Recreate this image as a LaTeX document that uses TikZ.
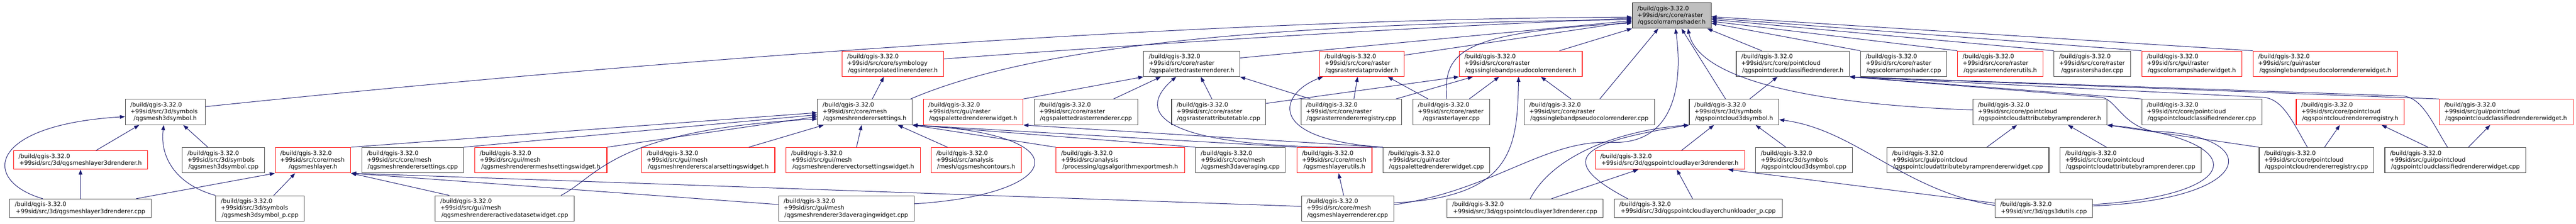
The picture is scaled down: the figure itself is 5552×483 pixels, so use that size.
\documentclass[tikz,border=0pt]{standalone}
\usepackage{fontspec}
\setmainfont{DejaVu Sans}
\usetikzlibrary{arrows.meta,calc}
\definecolor{grey25}{HTML}{404040}
\definecolor{grey75}{HTML}{BFBFBF}
\definecolor{midnight}{HTML}{191970}
\newcommand{\lline}[1]{\makebox[\linewidth][l]{#1}}
\newcommand{\qbuild}{\lline{/build/qgis-3.32.0}}

\begin{document}
\begin{tikzpicture}[x=1pt, y=-1pt,
    srcbox/.style={draw=grey25, line width=1.2pt, fill=white, inner xsep=11pt, inner ysep=0pt,
      minimum width=#1, text width=#1-22pt, minimum height=55pt, align=center,
      font=\fontsize{12.7}{14.7}\selectfont},
    redbox/.style={srcbox=#1, draw=red},
    short/.style={minimum height=40pt},
    incl/.style={draw=midnight, line width=1.1pt, -{Triangle[length=11pt, width=8pt]}}]
  \path[use as bounding box, fill=white] (0,0) rectangle (5552,483);

  % the header itself
  \node[srcbox=170pt, draw=black, fill=grey75] (cramp) at (3603,33.5) {\qbuild\\\lline{+99sid/src/core/raster}\\/qgscolorrampshader.h};

  % first row
  \node[redbox=219pt] (interp) at (1924.5,137.5) {\qbuild\\\lline{+99sid/src/core/symbology}\\/qgsinterpolatedlinerenderer.h};
  \node[srcbox=207pt] (palr) at (2568.5,137.5) {\qbuild\\\lline{+99sid/src/core/raster}\\/qgspalettedrasterrenderer.h};
  \node[redbox=182pt] (rdp) at (2935,137.5) {\qbuild\\\lline{+99sid/src/core/raster}\\/qgsrasterdataprovider.h};
  \node[redbox=265pt] (sbpr) at (3277.5,137.5) {\qbuild\\\lline{+99sid/src/core/raster}\\/qgssinglebandpseudocolorrenderer.h};
  \node[srcbox=244pt] (pcclass) at (3864,137.5) {\qbuild\\\lline{+99sid/src/core/pointcloud}\\/qgspointcloudclassifiedrenderer.h};
  \node[srcbox=186pt] (crampcpp) at (4103,137.5) {\qbuild\\\lline{+99sid/src/core/raster}\\/qgscolorrampshader.cpp};
  \node[redbox=184pt] (rrutils) at (4311,137.5) {\qbuild\\\lline{+99sid/src/core/raster}\\/qgsrasterrendererutils.h};
  \node[srcbox=165pt] (rshader) at (4509.5,137.5) {\qbuild\\\lline{+99sid/src/core/raster}\\/qgsrastershader.cpp};
  \node[redbox=216pt] (crampw) at (4724,137.5) {\qbuild\\\lline{+99sid/src/gui/raster}\\/qgscolorrampshaderwidget.h};
  \node[redbox=311pt] (sbprw) at (5011.5,137.5) {\qbuild\\\lline{+99sid/src/gui/raster}\\/qgssinglebandpseudocolorrendererwidget.h};

  % second row
  \node[srcbox=172pt] (m3dsym) at (356,241.5) {\qbuild\\\lline{+99sid/src/3d/symbols}\\/qgsmesh3dsymbol.h};
  \node[srcbox=204pt] (mrset) at (1864,241.5) {\qbuild\\\lline{+99sid/src/core/mesh}\\/qgsmeshrenderersettings.h};
  \node[redbox=215pt] (palw) at (2097.5,241.5) {\qbuild\\\lline{+99sid/src/gui/raster}\\/qgspalettedrendererwidget.h};
  \node[srcbox=223pt] (palrcpp) at (2340.5,241.5) {\qbuild\\\lline{+99sid/src/core/raster}\\/qgspalettedrasterrenderer.cpp};
  \node[srcbox=203pt] (ratcpp) at (2626.5,241.5) {\qbuild\\\lline{+99sid/src/core/raster}\\/qgsrasterattributetable.cpp};
  \node[srcbox=217pt] (rregcpp) at (2912.5,241.5) {\qbuild\\\lline{+99sid/src/core/raster}\\/qgsrasterrendererregistry.cpp};
  \node[srcbox=166pt] (rlayercpp) at (3128,241.5) {\qbuild\\\lline{+99sid/src/core/raster}\\/qgsrasterlayer.cpp};
  \node[srcbox=281pt] (sbprcpp) at (3425.5,241.5) {\qbuild\\\lline{+99sid/src/core/raster}\\/qgssinglebandpseudocolorrenderer.cpp};
  \node[srcbox=193pt] (pc3dsym) at (3737.5,241.5) {\qbuild\\\lline{+99sid/src/3d/symbols}\\/qgspointcloud3dsymbol.h};
  \node[srcbox=289pt] (pcramp) at (4396.5,241.5) {\qbuild\\\lline{+99sid/src/core/pointcloud}\\/qgspointcloudattributebyramprenderer.h};
  \node[srcbox=259pt] (pcclasscpp) at (4745.5,241.5) {\qbuild\\\lline{+99sid/src/core/pointcloud}\\/qgspointcloudclassifiedrenderer.cpp};
  \node[redbox=233pt] (pcreg) at (5065.5,241.5) {\qbuild\\\lline{+99sid/src/core/pointcloud}\\/qgspointcloudrendererregistry.h};
  \node[redbox=289pt] (pcclassw) at (5401.5,241.5) {\qbuild\\\lline{+99sid/src/gui/pointcloud}\\/qgspointcloudclassifiedrendererwidget.h};

  % third row
  \node[redbox=289pt, short] (ml3dr) at (173.5,345) {\qbuild\\+99sid/src/3d/qgsmeshlayer3drenderer.h};
  \node[srcbox=177pt] (m3dsymcpp) at (481.5,345.5) {\qbuild\\\lline{+99sid/src/3d/symbols}\\/qgsmesh3dsymbol.cpp};
  \node[redbox=163pt] (mlayer) at (674.5,345.5) {\qbuild\\\lline{+99sid/src/core/mesh}\\/qgsmeshlayer.h};
  \node[srcbox=219pt] (mrsetcpp) at (889.5,345.5) {\qbuild\\\lline{+99sid/src/core/mesh}\\/qgsmeshrenderersettings.cpp};
  \node[redbox=285pt] (mmeshw) at (1165.5,345.5) {\qbuild\\\lline{+99sid/src/gui/mesh}\\/qgsmeshrenderermeshsettingswidget.h};
  \node[redbox=287pt] (mscalarw) at (1526.5,345.5) {\qbuild\\\lline{+99sid/src/gui/mesh}\\/qgsmeshrendererscalarsettingswidget.h};
  \node[redbox=290pt] (mvectorw) at (1839,345.5) {\qbuild\\\lline{+99sid/src/gui/mesh}\\/qgsmeshrenderervectorsettingswidget.h};
  \node[redbox=194pt] (mcont) at (2104,345.5) {\qbuild\\\lline{+99sid/src/analysis}\\/mesh/qgsmeshcontours.h};
  \node[redbox=277pt] (expmesh) at (2414.5,345.5) {\qbuild\\\lline{+99sid/src/analysis}\\/processing/qgsalgorithmexportmesh.h};
  \node[srcbox=193pt] (m3davgcpp) at (2673.5,345.5) {\qbuild\\\lline{+99sid/src/core/mesh}\\/qgsmesh3daveraging.cpp};
  \node[redbox=162pt] (mlutils) at (2876,345.5) {\qbuild\\\lline{+99sid/src/core/mesh}\\/qgsmeshlayerutils.h};
  \node[srcbox=230pt] (palwcpp) at (3096,345.5) {\qbuild\\\lline{+99sid/src/gui/raster}\\/qgspalettedrendererwidget.cpp};
  \node[redbox=322pt, short] (pcl3dr) at (3599,345) {\qbuild\\+99sid/src/3d/qgspointcloudlayer3drenderer.h};
  \node[srcbox=208pt] (pc3dsymcpp) at (3888,345.5) {\qbuild\\\lline{+99sid/src/3d/symbols}\\/qgspointcloud3dsymbol.cpp};
  \node[srcbox=349pt] (pcrampwcpp) at (4241.5,345.5) {\qbuild\\\lline{+99sid/src/gui/pointcloud}\\/qgspointcloudattributebyramprendererwidget.cpp};
  \node[srcbox=304pt] (pcrampcpp) at (4592,345.5) {\qbuild\\\lline{+99sid/src/core/pointcloud}\\/qgspointcloudattributebyramprenderer.cpp};
  \node[srcbox=247pt] (pcregcpp) at (4992.5,345.5) {\qbuild\\\lline{+99sid/src/core/pointcloud}\\/qgspointcloudrendererregistry.cpp};
  \node[srcbox=304pt] (pcclasswcpp) at (5292,345.5) {\qbuild\\\lline{+99sid/src/gui/pointcloud}\\/qgspointcloudclassifiedrendererwidget.cpp};

  % fourth row
  \node[srcbox=305pt, short] (ml3drcpp) at (173.5,449) {\qbuild\\+99sid/src/3d/qgsmeshlayer3drenderer.cpp};
  \node[srcbox=191pt] (m3dsympcpp) at (560.5,449.5) {\qbuild\\\lline{+99sid/src/3d/symbols}\\/qgsmesh3dsymbol\_p.cpp};
  \node[srcbox=300pt] (mactivecpp) at (1088,449.5) {\qbuild\\\lline{+99sid/src/gui/mesh}\\/qgsmeshrendereractivedatasetwidget.cpp};
  \node[srcbox=292pt] (m3davgwcpp) at (1824,449.5) {\qbuild\\\lline{+99sid/src/gui/mesh}\\/qgsmeshrenderer3daveragingwidget.cpp};
  \node[srcbox=199pt] (mlrcpp) at (2904.5,449.5) {\qbuild\\\lline{+99sid/src/core/mesh}\\/qgsmeshlayerrenderer.cpp};
  \node[srcbox=336pt, short] (pcl3drcpp) at (3287,449) {\qbuild\\+99sid/src/3d/qgspointcloudlayer3drenderer.cpp};
  \node[srcbox=362pt, short] (pcchunkcpp) at (3660,449) {\qbuild\\+99sid/src/3d/qgspointcloudlayerchunkloader\_p.cpp};
  \node[srcbox=210pt, short] (utilscpp) at (4405,449) {\qbuild\\+99sid/src/3d/qgs3dutils.cpp};

  % into the header, from the left
  \draw[incl] ($(m3dsym.east)+(0,-11.5)$) .. controls (1400,130) and (2600,40) .. ($(cramp.west)+(0,3.5)$);
  \draw[incl] ($(interp.east)+(0,-10.5)$) .. controls (2400,100) and (3000,60) .. ($(cramp.west)+(0,6)$);
  \draw[incl] ($(mrset.north east)+(-4,0)$) .. controls (2250,90) and (2800,50) .. ($(cramp.west)+(0,9)$);
  \draw[incl] ($(palr.east)+(0,-12.5)$) -- ($(cramp.west)+(0,11)$);
  \draw[incl] ($(rdp.east)+(0,-18.5)$) -- ($(cramp.west)+(0,13)$);
  \draw[incl] ($(rlayercpp.north)+(-10,0)$) .. controls (3110,110) and (3150,70) .. ($(cramp.west)+(0,16)$);

  % into the header, from below
  \draw[incl] ($(sbpr.north)+(83.5,0)$) -- (cramp.south west);
  \draw[incl] ($(sbprcpp.north)+(22.5,0)$) -- ($(cramp.south)+(-29,0)$);
  \draw[incl] ($(mlrcpp.east)+(0,-8)$) .. controls (3220,410) and (3330,300) .. (3474,307) .. controls (3620,312) and (3625,160) .. ($(cramp.south)+(8,0)$);
  \draw[incl] ($(pc3dsym.north)+(-18.5,0)$) -- ($(cramp.south)+(21,0)$);
  \draw[incl] ($(pcramp.west)+(0,-4.5)$) .. controls (3900,225) and (3660,170) .. ($(cramp.south)+(35,0)$);
  \draw[incl] ($(pcclass.north)+(-67,0)$) -- ($(cramp.south east)+(-9,0)$);

  % into the header, from the right
  \foreach \n/\dy in {sbprw/2.5, crampw/5.5, rshader/8.5, rrutils/12.5, crampcpp/16.5}
    \draw[incl] (\n.north west) -- ($(cramp.east)+(0,\dy)$);

  % mesh renderer settings
  \draw[incl] ($(mrset.north)+(16,0)$) -- ($(interp.south)+(-19.5,0)$);
  \draw[incl] (mlayer.north east) -- ($(mrset.west)+(0,1.5)$);
  \draw[incl] (mrsetcpp.north east) -- ($(mrset.west)+(0,6)$);
  \draw[incl] (mmeshw.north east) -- ($(mrset.west)+(0,10)$);
  \draw[incl] ($(mactivecpp.north)+(121,0)$) .. controls (1290,380) and (1320,280) .. ($(mrset.west)+(0,15)$);
  \draw[incl] ($(mscalarw.north)+(87.5,0)$) -- ($(mrset.south west)+(14,0)$);
  \draw[incl] ($(mvectorw.north)+(7,0)$) -- ($(mrset.south)+(-7,0)$);
  \draw[incl] ($(mcont.north)+(-62,0)$) -- ($(mrset.south)+(71,0)$);
  \foreach \n in {expmesh, m3davgcpp, mlutils}
    \draw[incl] (\n.north west) -- (mrset.south east);
  \draw[incl] ($(m3davgwcpp.east)+(0,-10)$) .. controls (2290,420) and (2340,290) .. (mrset.south east);

  % paletted raster renderer
  \draw[incl] (palw.north east) -- (palr.south west);
  \draw[incl] ($(palrcpp.north)+(59.5,0)$) -- ($(palr.south)+(-66.5,0)$);
  \draw[incl] ($(ratcpp.north)+(-14.5,0)$) -- ($(palr.south)+(19.5,0)$);
  \draw[incl] ($(rregcpp.north west)+(21,0)$) -- (palr.south east);
  \draw[incl] (palwcpp.north west) .. controls (2450,325) and (2460,230) .. ($(palr.south)+(-33.5,0)$);
  \draw[incl] (palwcpp.north west) -- (palw.south east);

  % raster data provider
  \draw[incl] ($(rregcpp.north)+(5.5,0)$) -- ($(rdp.south)+(-9,0)$);
  \draw[incl] ($(rlayercpp.north)+(-50,0)$) -- ($(rdp.south)+(56,0)$);
  \draw[incl] (palwcpp.north west) .. controls (2720,300) and (2760,200) .. ($(rdp.south west)+(8,0)$);

  % singleband pseudocolor renderer
  \draw[incl] ($(ratcpp.east)+(0,-18.5)$) -- (sbpr.south west);
  \draw[incl] ($(rregcpp.north east)+(-13,0)$) -- ($(sbpr.south west)+(30,0)$);
  \draw[incl] ($(rlayercpp.north east)+(-45,0)$) -- ($(sbpr.south)+(-46.5,0)$);
  \draw[incl] ($(sbprcpp.north)+(-39.5,0)$) -- ($(sbpr.south)+(43.5,0)$);
  \draw[incl] ($(mlrcpp.east)+(0,-12)$) .. controls (3260,425) and (3270,320) .. ($(sbpr.south)+(-4.5,0)$);

  % mesh 3d symbol and mesh layer
  \draw[incl] ($(ml3dr.north)+(33.5,0)$) -- ($(m3dsym.south)+(-56,0)$);
  \draw[incl] ($(ml3drcpp.north)+(-81.5,0)$) .. controls (-40,390) and (-30,270) .. ($(m3dsym.west)+(0,10)$);
  \draw[incl] ($(m3dsymcpp.north)+(-33.5,0)$) -- ($(m3dsym.south)+(39,0)$);
  \draw[incl] (m3dsympcpp.north west) .. controls (370,395) and (345,330) .. ($(m3dsym.south)+(-3,0)$);
  \draw[incl] (ml3drcpp) -- (ml3dr);
  \draw[incl] ($(ml3drcpp.north east)+(-33,0)$) -- (mlayer.south west);
  \draw[incl] ($(m3dsympcpp.north)+(29.5,0)$) -- ($(mlayer.south)+(-38.5,0)$);
  \draw[incl] ($(mactivecpp.north west)+(31,0)$) -- (mlayer.south east);
  \draw[incl] ($(m3davgwcpp.west)+(0,-8.5)$) -- (mlayer.south east);
  \draw[incl] ($(mlrcpp.west)+(0,-4.5)$) -- (mlayer.south east);
  \draw[incl] ($(mlrcpp.north)+(-8.5,0)$) -- ($(mlutils.south)+(9,0)$);

  % point cloud 3d symbol and layer renderer
  \draw[incl] ($(pcl3dr.north)+(25,0)$) -- ($(pc3dsym.south)+(-43.5,0)$);
  \draw[incl] ($(pcl3drcpp.north)+(11,0)$) .. controls (3350,330) and (3500,280) .. (pc3dsym.south west);
  \draw[incl] ($(pcchunkcpp.north)+(-152,0)$) .. controls (3340,340) and (3420,305) .. (pc3dsym.south west);
  \draw[incl] ($(pc3dsymcpp.north)+(-39,0)$) -- ($(pc3dsym.south)+(46.5,0)$);
  \draw[incl] ($(utilscpp.west)+(0,-6)$) .. controls (4100,410) and (4000,280) .. ($(pc3dsym.east)+(0,16.5)$);
  \draw[incl] ($(pcl3drcpp.north)+(57,0)$) -- ($(pcl3dr.south)+(-68,0)$);
  \draw[incl] ($(pcchunkcpp.north)+(-12,0)$) -- ($(pcl3dr.south)+(15,0)$);
  \draw[incl] ($(utilscpp.west)+(0,-11)$) -- ($(pcl3dr.south east)+(-36,0)$);

  % point cloud classified renderer
  \draw[incl] ($(pc3dsym.north)+(33.5,0)$) -- ($(pcclass.south)+(-33,0)$);
  \foreach \n in {pcclasscpp, pcclassw}
    \draw[incl] (\n.north west) -- (pcclass.south east);
  \draw[incl] ($(pcregcpp.north)+(-19.5,0)$) .. controls (4940,260) and (4920,215) .. (4880,210) -- (pcclass.south east);
  \draw[incl] ($(pcclasswcpp.north)+(-17,0)$) .. controls (5240,260) and (5220,212) .. (5180,207) -- (pcclass.south east);
  \draw[incl] ($(utilscpp.east)+(0,-5)$) .. controls (4870,430) and (4880,290) .. (4640,283) .. controls (4575,270) and (4560,215) .. (4530,210) -- (pcclass.south east);

  % point cloud ramp renderer
  \draw[incl] ($(pcrampwcpp.north)+(40.5,0)$) -- ($(pcramp.south)+(-49.5,0)$);
  \draw[incl] ($(pcrampcpp.north)+(-52,0)$) -- ($(pcramp.south)+(60.5,0)$);
  \draw[incl] (pcregcpp.north west) -- (pcramp.south east);
  \draw[incl] ($(utilscpp.east)+(0,-8)$) .. controls (4850,420) and (4850,300) .. (pcramp.south east);

  % point cloud registry and classified widget
  \draw[incl] ($(pcregcpp.north)+(17.5,0)$) -- ($(pcreg.south)+(-22.5,0)$);
  \draw[incl] ($(pcclasswcpp.north)+(-59,0)$) -- ($(pcreg.south)+(67.5,0)$);
  \draw[incl] ($(pcclasswcpp.north)+(28,0)$) -- ($(pcclassw.south)+(-34.5,0)$);
\end{tikzpicture}
\end{document}
